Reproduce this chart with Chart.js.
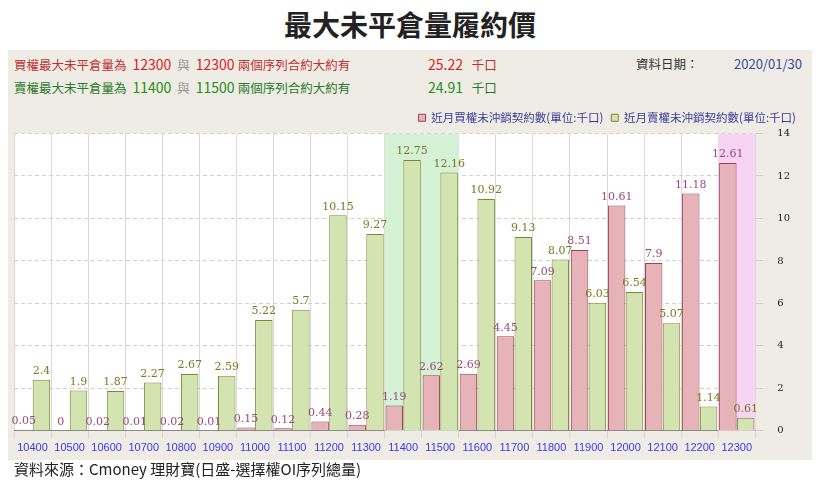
<!DOCTYPE html>
<html><head><meta charset="utf-8">
<script src="https://cdn.jsdelivr.net/npm/chart.js@4"></script>
<style>
body{margin:0;width:820px;height:484px;background:#fff;font-family:"Noto Sans CJK TC","Noto Sans",sans-serif;position:relative;overflow:hidden}
#title{position:absolute;top:4px;left:0;width:820px;text-align:center;font-size:28px;font-weight:bold;color:#222}
#panel{position:absolute;left:8px;top:50px;width:804px;height:410px;background:#eeece4}
.hd{position:absolute;font-size:12.5px;white-space:nowrap}
#src{position:absolute;left:14px;top:458px;font-size:15px;color:#222}
#wrap{position:absolute;left:8px;top:104px;width:804px;height:356px}
</style></head><body>
<div id="title">最大未平倉量履約價</div>
<div id="panel"></div>
<div class="hd" style="left:14px;top:54px;color:#c03030">買權最大未平倉量為 <span style="color:#e02020;font-size:14px">&nbsp;12300 </span><span style="color:#999">&nbsp;與 </span><span style="color:#e02020;font-size:14px">&nbsp;12300 </span> 兩個序列合約大約有</div>
<div class="hd" style="left:428px;top:54px;color:#e02020;font-size:14px">25.22 <span style="font-size:12.5px;color:#c03030">&nbsp; 千口</span></div>
<div class="hd" style="left:14px;top:77px;color:#2a7a2a">賣權最大未平倉量為 <span style="color:#209020;font-size:14px">&nbsp;11400 </span><span style="color:#999">&nbsp;與 </span><span style="color:#209020;font-size:14px">&nbsp;11500 </span> 兩個序列合約大約有</div>
<div class="hd" style="left:428px;top:77px;color:#209020;font-size:14px">24.91 <span style="font-size:12.5px;color:#2a7a2a">&nbsp; 千口</span></div>
<div class="hd" style="left:636px;top:54px;color:#333">資料日期：</div>
<div class="hd" style="left:734px;top:54px;color:#3a4a9a;font-size:13px">2020/01/30</div>
<div id="wrap"><canvas id="c" width="804" height="356"></canvas></div>
<div id="src">資料來源：Cmoney 理財寶(日盛-選擇權OI序列總量)</div>
<script>
const strikes = ["10400","10500","10600","10700","10800","10900","11000","11100","11200","11300","11400","11500","11600","11700","11800","11900","12000","12100","12200","12300"];
const callOI = [0.05,0,0.02,0.01,0.02,0.01,0.15,0.12,0.44,0.28,1.19,2.62,2.69,4.45,7.09,8.51,10.61,7.9,11.18,12.61];
const putOI = [2.4,1.9,1.87,2.27,2.67,2.59,5.22,5.7,10.15,9.27,12.75,12.16,10.92,9.13,8.07,6.03,6.54,5.07,1.14,0.61];
const greenBand = ["11400","11500"];
const pinkBand = ["12300"];

// background + highlight columns
const bandPlugin = {
  id: "bands",
  beforeDatasetsDraw(chart) {
    const { ctx, chartArea: a, scales: { x } } = chart;
    ctx.save();
    const w = x.getPixelForValue(1) - x.getPixelForValue(0);
    const fill = (list, color) => list.forEach((s) => {
      const cx = x.getPixelForValue(strikes.indexOf(s));
      ctx.fillStyle = color;
      ctx.fillRect(cx - w / 2, a.top, w, a.bottom - a.top);
    });
    fill(greenBand, "#d6f2d6");
    fill(pinkBand, "#f8d4f4");
    ctx.restore();
  },
  beforeDraw(chart) {
    const { ctx, chartArea: a } = chart;
    ctx.save();
    ctx.fillStyle = "#fff";
    ctx.fillRect(a.left, a.top, a.right - a.left, a.bottom - a.top);
    ctx.restore();
  },
};

// value labels above bars
const labelPlugin = {
  id: "labels",
  afterDatasetsDraw(chart) {
    const { ctx } = chart;
    ctx.save();
    ctx.font = "11px 'DejaVu Serif', serif";
    ctx.textAlign = "center";
    ctx.textBaseline = "bottom";
    chart.data.datasets.forEach((ds, di) => {
      ctx.fillStyle = di === 0 ? "#9a4a7a" : "#7a7a20";
      chart.getDatasetMeta(di).data.forEach((bar, i) => {
        ctx.fillText(ds.data[i], bar.x, bar.y - 3);
      });
    });
    ctx.restore();
  },
};

new Chart(document.getElementById("c"), {
  type: "bar",
  data: {
    labels: strikes,
    datasets: [
      { label: "近月買權未沖銷契約數(單位:千口)", data: callOI, backgroundColor: "#e6b4b8", borderColor: "#a04050", borderWidth: 1 },
      { label: "近月賣權未沖銷契約數(單位:千口)", data: putOI, backgroundColor: "#d4e4b0", borderColor: "#7a8a30", borderWidth: 1 },
    ],
  },
  options: {
    responsive: false,
    animation: false,
    categoryPercentage: 0.96,
    barPercentage: 0.98,
    layout: { padding: { left: 6, right: 8, top: 0, bottom: 2 } },
    plugins: {
      legend: {
        align: "end",
        labels: { boxWidth: 7, boxHeight: 7, color: "#3a3a9a", font: { size: 11.5, family: "'Noto Sans CJK TC'" }, padding: 8 },
      },
      tooltip: { enabled: false },
    },
    scales: {
      x: {
        grid: { color: "#d8d8d8", offset: true },
        border: { color: "#888" },
        ticks: { color: "#3a3af0", font: { size: 11 }, maxRotation: 0, autoSkip: false },
      },
      y: {
        position: "right",
        min: 0, max: 14,
        grid: { color: "#d0d0d0" },
        border: { dash: [4, 3], display: false },
        ticks: { stepSize: 2, color: "#222", font: { size: 10, family: "'DejaVu Serif'" }, padding: 14 },
      },
    },
  },
  plugins: [bandPlugin, labelPlugin],
});
</script>
</body></html>
